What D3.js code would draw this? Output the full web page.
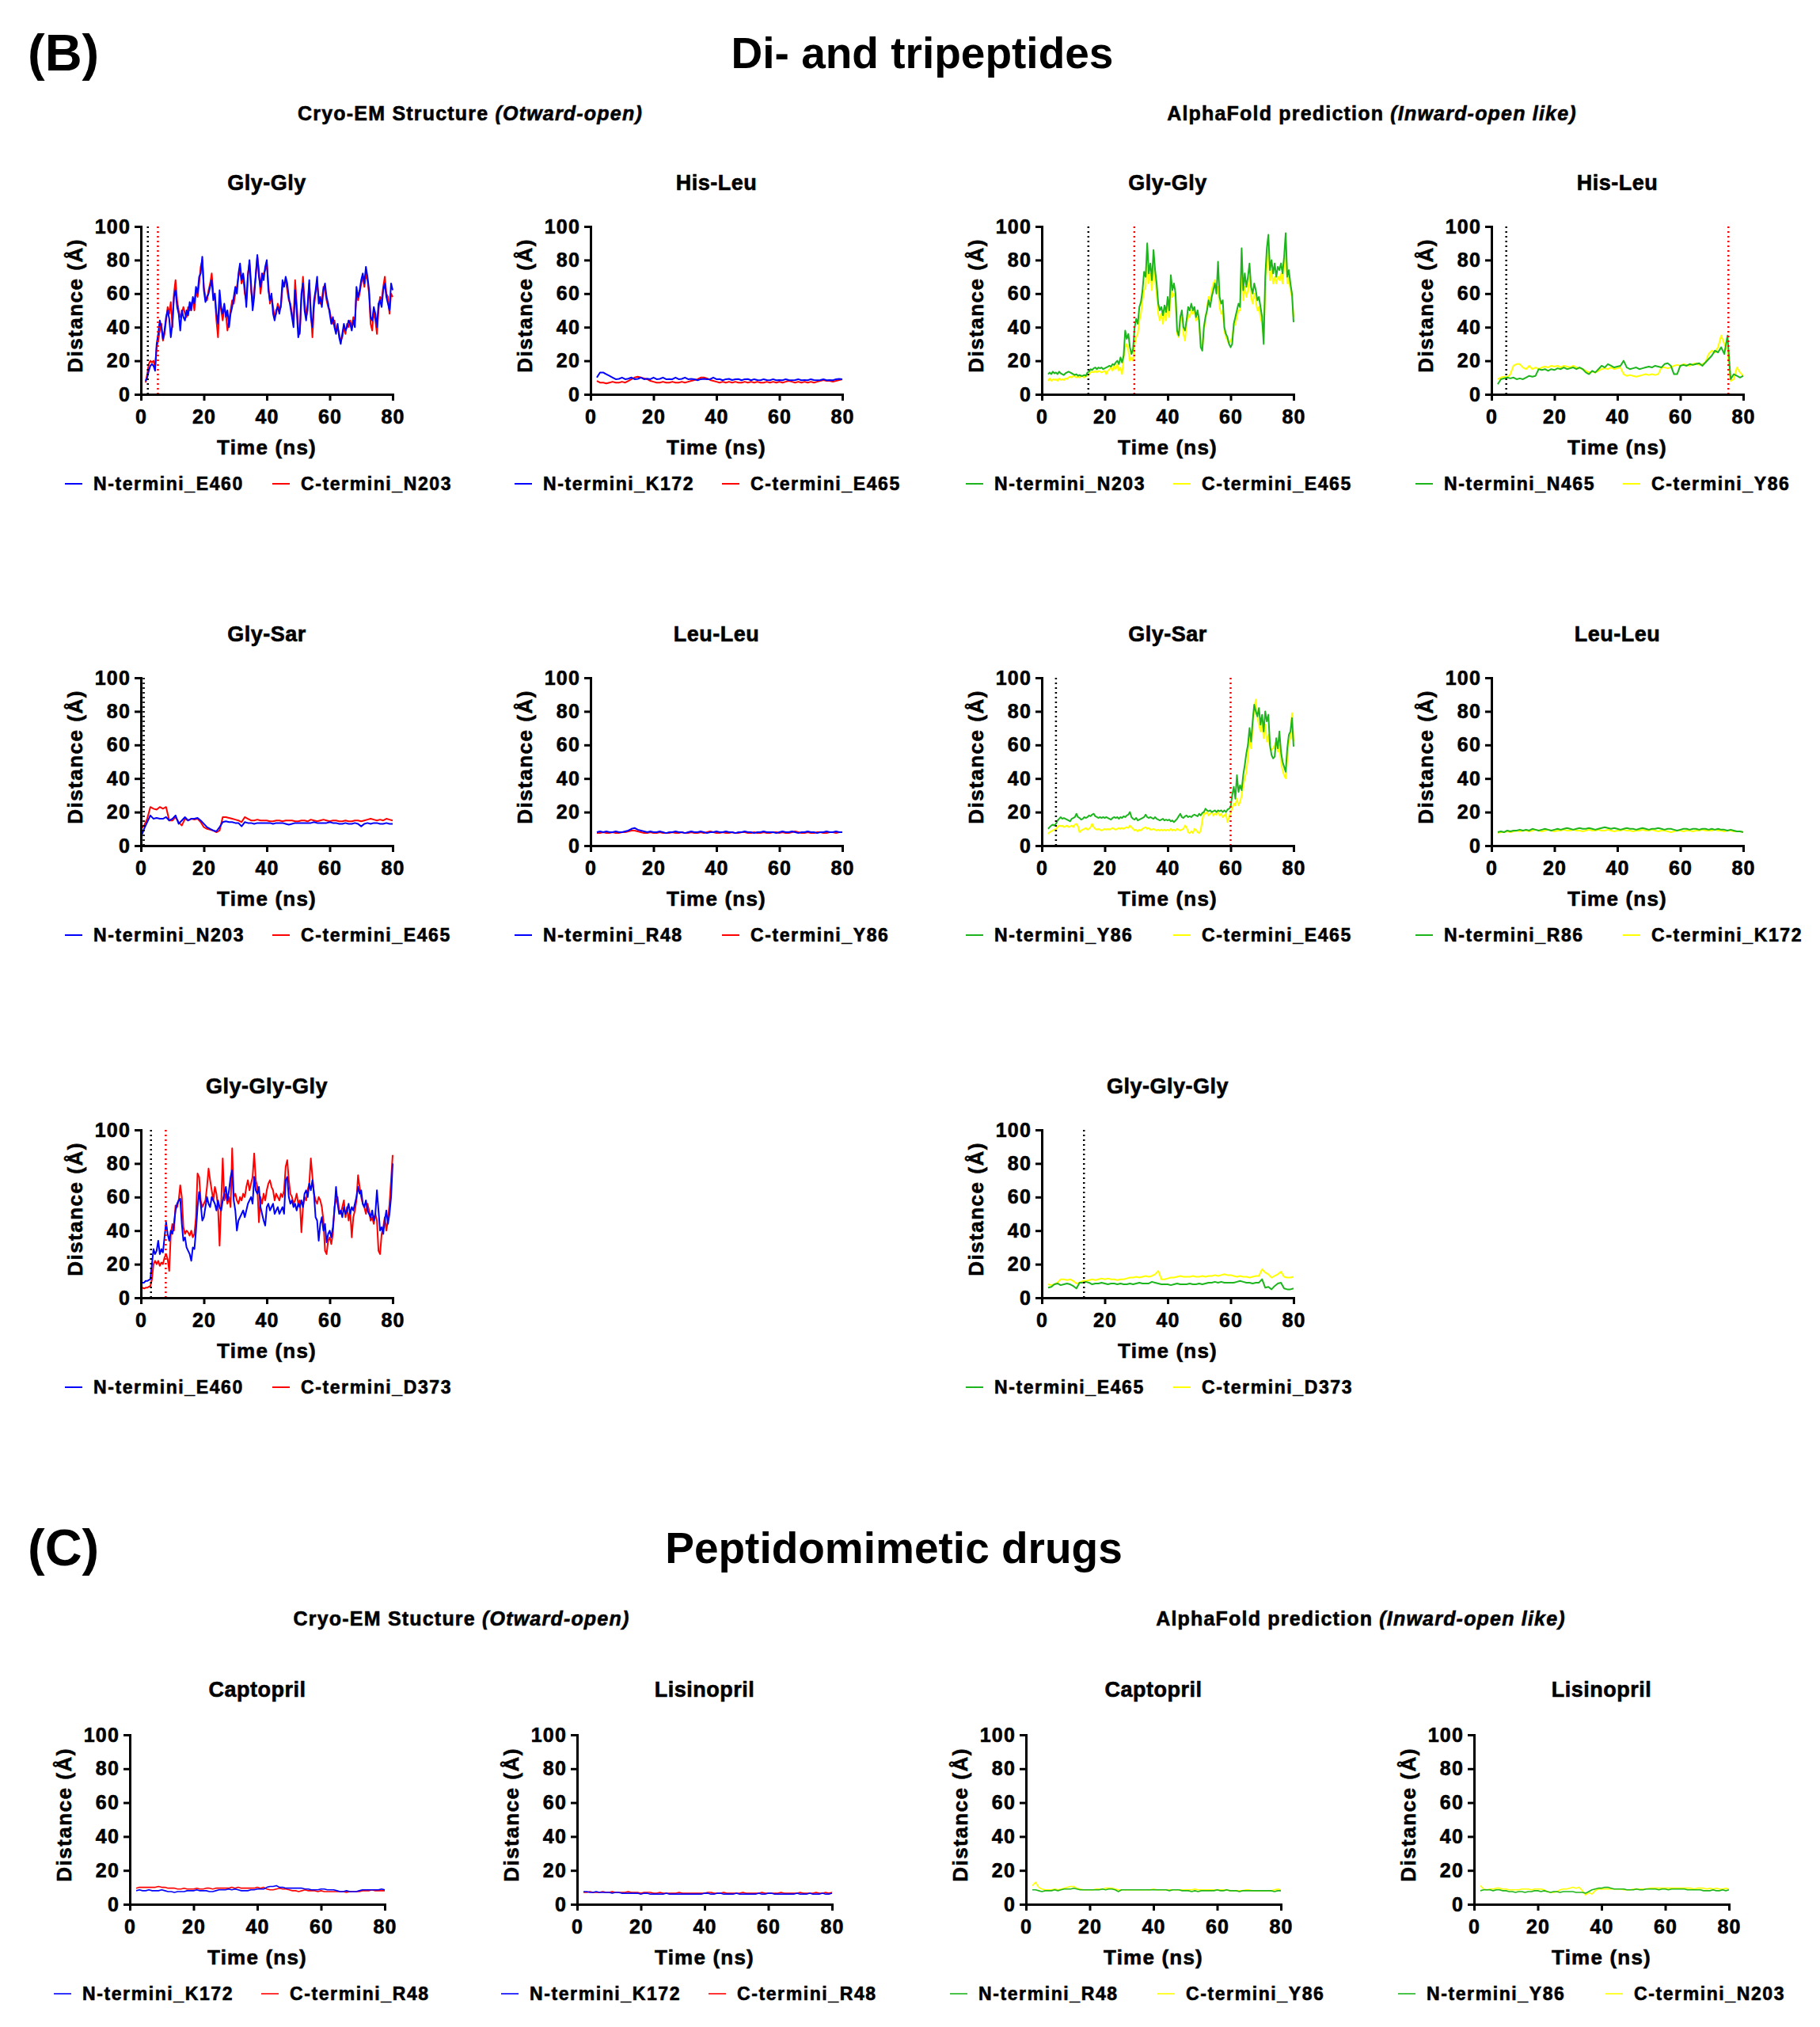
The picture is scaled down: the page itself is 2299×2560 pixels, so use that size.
<!DOCTYPE html>
<html>
<head>
<meta charset="utf-8">
<script src="https://cdn.jsdelivr.net/npm/d3@7"></script>
<style>
  body { margin: 0; background: #fff; }
  svg text { font-family: "Liberation Sans", Arial, sans-serif; font-weight: bold; fill: #000; }
  svg text.heavy { stroke: #000; stroke-width: 0.6; }
</style>
</head>
<body>
<div id="chart"></div>
<script>
// ---- data (distance in Å, sampled evenly between first and last time in ns) ----
var xTicks = [0, 20, 40, 60, 80];
var yTicks = [0, 20, 40, 60, 80, 100];

// Gly-Gly, cryo-EM
var ggOutN = [8,10,14,17,18,17,14,30,36,44,40,33,38,46,50,45,34,42,58,62,52,48,38,50,46,44,50,47,55,50,58,54,64,60,70,72,82,62,55,58,60,64,68,56,60,48,42,62,52,48,54,46,50,40,48,52,58,64,60,72,78,68,72,64,52,70,80,66,50,58,72,83,70,64,72,68,76,80,62,56,60,48,44,50,52,48,54,68,64,70,66,58,52,46,40,62,50,34,38,60,66,50,44,54,68,46,40,56,62,70,54,58,52,62,66,58,54,48,42,46,40,36,42,34,30,36,42,38,40,44,42,38,44,40,64,58,62,68,72,66,76,70,62,46,44,52,48,40,54,56,52,62,66,58,54,50,66,62];
var ggOutC = [7,12,18,20,19,20,16,28,32,38,42,32,36,44,52,48,55,40,60,68,56,50,46,48,52,48,46,52,50,54,56,50,62,58,66,76,80,64,58,56,62,66,72,60,58,44,34,56,50,44,52,48,38,44,50,56,54,60,64,70,74,66,70,60,56,72,78,62,54,62,70,82,74,60,68,72,74,78,66,54,58,52,46,48,54,50,52,64,66,68,62,56,54,48,44,68,54,40,36,56,70,56,46,50,66,50,34,52,60,66,58,54,56,64,62,56,52,50,44,42,44,38,40,36,32,34,40,36,42,40,44,40,46,44,60,56,60,66,70,64,72,68,60,42,38,50,44,36,50,58,56,64,70,60,58,48,60,58];
var ggOutEvents = [2.2, 5.4];

// His-Leu, cryo-EM
var hlOutN = [10,13,13,12,11,10,9,9.2,10,9,9.3,10,9,9.2,10,9,9.3,9,10,9,9.2,10,9,9.1,9,10,9,9.2,10,9,9.2,9,8.4,9,9.2,9,9,10,9,9.1,8.4,9,9.2,8.5,9,9.1,8.4,9,9.1,8.4,9,8.5,8.4,9,8.5,8.4,9,8.4,8.5,8.4,9,8.5,8.4,8.5,9,8.4,8.5,8.4,9,8.5,8.4,8.5,9,8.4,8.5,8.4,9,9.2,9];
var hlOutC = [8,7,7,6.5,7,7.5,7,7,7.5,7,8,9,10,10.5,10,9.5,9,8,7.5,7,7,7.5,7,7,7.5,7,7,7.5,7,7.5,8,8.5,9,10,10,9.5,8.5,8,7.5,7,7.5,7,7.5,7,7.5,7,7,7.5,7,7.5,7,7.5,7,7,7.5,7,7.5,7,7.5,7,7.5,8,7.5,7,7.5,7,7.5,7,7.5,7,7.5,8,8.5,8,8,7.5,8,8.5,9];
var hlOutEvents = [];

// Gly-Gly, AlphaFold
var ggInN = [12,13,12,13.5,12.5,13,12,13.5,12.5,12,11.5,12.5,13,13.5,13,12.5,12,11.5,12,11,11.5,11,11,11.5,11,13,13.5,15,14.5,15.5,16,15,16,15.5,16,15,15.5,16,16.5,17,16.5,18,17.5,19,20,18,22,19,23,38,33,36,28,24,27,40,45,42,52,55,62,73,70,90,72,78,68,86,74,66,54,50,52,47,53,49,58,50,71,62,66,60,38,35,46,50,40,38,44,52,50,54,50,52,46,50,44,28,26,40,46,50,56,52,58,62,66,60,79,58,54,56,40,36,34,30,28,30,42,46,50,54,52,87,62,72,64,70,78,64,60,66,62,56,58,52,46,30,70,87,95,74,80,72,78,70,76,74,78,72,82,96,70,74,66,60,43];
var ggInC = [8,9.5,8,9,8.5,9,8,9.5,8.5,9,8.5,9.5,9,10,10.5,10,11,10.5,10,10.5,10,11,10.5,10,11,11,12,13,13.5,13,14,13,14,13.5,13,13.5,14,12,14,15,16,14,17,15,18,14,16,12,22,28,30,26,20,22,20,30,34,36,44,48,56,62,64,80,66,72,62,80,68,60,48,44,48,42,50,44,54,46,64,58,60,56,36,34,44,46,36,32,42,48,46,50,48,50,44,46,42,30,28,38,44,52,58,56,62,66,68,62,64,52,48,50,38,34,32,30,32,34,40,42,46,50,50,76,56,64,58,62,70,58,54,60,56,50,52,46,42,34,62,78,88,68,74,66,70,66,70,68,72,66,76,90,66,70,62,58,46];
var ggInEvents = [14.8, 29.4];

// His-Leu, AlphaFold
var hlInN = [6,9,9.5,10,9.5,10,9,9.5,9,10,11,10.5,11,15,14.5,15,14,15,14.5,15.5,15,16,15,15.5,16,15,16,15,13,12,14,13,15,17,16,18,17,16,16.5,17,20,16,15,15.5,16,15,15.5,16,16.5,16,17,16.5,16,18,18.5,17,12,12,17,17.5,17,18,17.5,18,18.5,17,19,21,23,26,25,28,24,35,9,12,11,10,11];
var hlInC = [9,10,10.5,10,12,17,18,18,16,15,17,15,16,15,16,16.5,16,17,16.5,17,16,17,16.5,16,17,16,15.5,15,14,13,13.5,13,14,15,15.5,15,16,15,15.5,16,12,11,11.5,11,10.5,11,11.5,12,11.5,12,11.5,12,16,16,15.5,16,17,17.5,17,18,17.5,17,18,18.5,17.5,18,19,24,26,25,28,35,30,26,8,9,16,13,11];
var hlInEvents = [4.7, 75.3];

// Gly-Sar, cryo-EM
var gsOutN = [5,10,14,18,16,16.5,16,16,17,15,16,18,13,15,17,15,16,16,16.5,15,13,11,10,9,8.5,11,14,14.5,14,14,13.5,13.5,11.5,14,13.5,13.5,13,13.5,13.5,13.5,13.5,13.5,13,13.5,13.5,13.5,13,12.5,13,13.5,13.5,13.5,13.5,13.5,13.5,14,13.5,13.5,13.5,13.5,14,13.5,13.5,13,13,13.5,13,13,13.5,13,11.5,13,13.5,13,13.5,13.5,13,13,13.5,13,13];
var gsOutC = [10,12,16,23,22,21.5,23,22,23,15,15,17,14,12,16,15,16,15.5,16,14,11,10,9.5,9,8,9,17,17,16.5,16,15.5,15,14,17,16,15,15,15.5,15,15,15,14.5,14.5,15,15,14.5,15,15,15,14.5,14.5,15,15,14.5,15.5,15,14.5,15,15.5,15,14.5,15,15,14.5,14.5,15,14.5,14.5,15,15,14.5,15,15.5,16,15.5,15,15.5,15,16,15.5,15];
var gsOutEvents = [0.9];

// Leu-Leu, cryo-EM
var llOutN = [8,8.5,8,8.5,8,8,8.5,8,8,8.5,9,10,10.5,9.5,9,8.5,8,8.5,8,8,8.5,8,7.5,8,8,8.5,8,8,7.5,8,8.5,8,8,8.5,8,7.5,8,8,8.5,8,8,8.5,8,8,7.5,8,8,8.5,8,8,7.5,8,8,8.5,8,8,8,7.5,8,8.5,8,8,8.5,8,7.5,8,8,8.5,8,8,7.5,8,8,8.5,8,8,8.5,8,8];
var llOutC = [7.5,7.5,8,7.5,7.5,8,7.5,7.5,8,8,8.5,9,9,8.5,8,7.5,7.5,8,7.5,7.5,8,7.5,7.5,7.5,8,7.5,7.5,8,7.5,7.5,8,7.5,7.5,8,7.5,8,8.5,8,7.5,7.5,8,7.5,7.5,8,7.5,7.5,8,8,7.5,7.5,8,7.5,7.5,8,7.5,7.5,8,8,7.5,8,7.5,7.5,8,8.5,8,7.5,7.5,8,7.5,7.5,8,8,7.5,7.5,8,8,7.5,8,8];
var llOutEvents = [];

// Gly-Sar, AlphaFold
var gsInN = [10,11,12,12.5,12,13,15,16,17,16,16.5,16,15.5,15,14.5,16,16.5,17,19,17,16.5,15.5,16,17,16.5,17,18,17.5,18.5,19,17.5,17,16.5,17,16.5,17,16.5,17,16.5,16,15.5,16.5,17,16.5,17,16,17,16.5,17.5,17,18,18.5,20,17,16,15.5,16.5,15,15.5,16,16.5,17,18.5,17,16.5,17,16.5,16,17,16,15.5,15,15.5,16,15,15.5,15,15.5,14.5,15,14,15,16,17.5,19,17,16.5,17.5,18,17,17.5,17,18,18.5,18,17.5,19,18,19.5,20,22,21,20.5,21,20,20.5,21,20,21,20.5,21,20,21,20,21.5,22,23,30,35,28,42,32,36,33,42,48,55,60,70,62,74,84,80,77,82,72,78,68,80,74,78,60,54,52,53,64,58,68,56,50,47,44,58,66,68,76,59];
var gsInC = [7,8,8.5,9,9.5,10,11,12,11.5,12,11,11.5,12,11,11.5,12,11,12.5,13,11.5,8,9,9.5,10,10.5,9.5,10,11,13,11,10,9.5,10,9.5,9,9.5,10,9.5,10,9.5,10,10.5,10,9.5,10,10.5,10,10.5,10,10.5,11,10.5,12,11,10,9,9.5,8.5,9.5,9,10,10.5,11,10,10.5,9.5,9.5,10,9.5,9,9.5,9,9.5,9,9.5,9,9.5,9,10,9,9.5,9,10,9.5,9,9.5,10,12,11,8,7.5,8.5,7.5,10,9.5,8,7.5,9,15,20,19,20,18,19,20,18,19,18.5,20,18,19,17,18,19,14,17,20,22,25,24,28,24,26,30,36,40,44,52,64,58,70,82,87,76,72,68,74,64,72,62,66,58,57,58,60,62,56,60,50,45,42,40,52,62,64,79,62];
var gsInEvents = [4.5, 60.0];

// Leu-Leu, AlphaFold
var llInN = [8,8.5,8,9,8.5,9,9,9.5,9,9.5,9,10,9.5,9,9.5,10,9.5,9,9.5,10,9.5,10,10.5,10,9.5,10,10.5,10,10,10.5,10,9.5,10,10.5,11,10.5,10,10.5,10,9.5,10,10.5,10,10,9.5,10,10.5,10,9.5,10,10,10.5,10,9.5,10,10,9.5,9,9.5,10,10,9.5,10,10,9.5,10,10,9.5,10,9.5,10,9.5,9.5,9,9.5,9,8.5,8.5,8];
var llInC = [7.5,8,8,8.5,8,8.5,9,8.5,9,9,8.5,9,9.5,9,8.5,9,9.5,9,8.5,9,9,9.5,9,9,9.5,9,9,8.5,9,9.5,9,9,9.5,9,9,9.5,9,8.5,9,9,9.5,9,9,8.5,9,9,9.5,9,9,9.5,9,8.5,9,9,8.5,8,8.5,9,9,8.5,9,9,8.5,9,9,9.5,9,9,9,9.5,9,9,8.5,9,9,8.5,8.5,8.5,8];
var llInEvents = [];

// Gly-Gly-Gly, cryo-EM
var gggOutN = [9,9,9,10,10,10.5,11,20,29,26,28,34,26,29,27,36,45,38,34,40,38,44,52,56,58,59,44,34,36,30,28,26,22,30,29,40,54,63,56,46,48,54,60,56,54,60,58,56,52,58,54,52,58,62,66,58,64,72,76,58,52,40,46,48,50,52,48,52,56,58,60,56,72,64,62,66,54,50,46,43,54,56,52,54,56,50,52,54,50,52,54,50,70,72,60,56,58,54,56,52,56,54,58,54,62,64,60,68,64,70,62,48,46,34,44,48,40,44,33,38,40,36,42,52,66,56,50,52,48,54,50,52,56,50,54,52,56,60,66,62,64,56,54,58,52,50,48,52,46,50,64,52,40,42,38,46,52,44,50,60,80];
var gggOutC = [6,6,5.5,6,6,6.5,7,11,20,22,20,22,19,21,20,24,26,23,16,38,44,40,55,54,58,67,60,42,38,40,39,37,40,36,38,48,74,72,58,54,56,58,66,77,70,64,58,66,62,54,31,56,83,58,62,56,60,54,89,60,62,58,56,60,58,62,60,66,70,64,68,72,86,70,66,45,60,56,62,58,64,68,70,66,64,58,62,60,58,62,60,64,78,82,70,62,60,56,58,62,56,58,39,54,60,58,64,68,83,72,62,58,56,60,58,54,46,28,26,34,36,32,38,54,58,60,52,50,54,58,48,54,46,52,36,48,52,58,73,66,60,56,54,50,56,52,46,48,44,50,46,28,26,38,42,48,40,46,56,70,85];
var gggOutEvents = [3.2, 7.9];

// Gly-Gly-Gly, AlphaFold
var gggInN = [6,6.5,8,8.5,7.5,8,8.5,8,7,5.5,9,9,9.5,9,8,8.5,8.5,9,8.5,8,8.5,8.5,8,8.5,8,8,8.5,8,8.5,9,8.5,8.5,8.5,9.5,9,8.5,8,8,8,7.5,8,8.5,8,8,8,8.5,8,8,8.5,8,8.5,9,9,9.5,9,9.5,9,9,9,9,9.5,10,9.5,9,9,8.5,9,9,11,6,6.5,5,7,8.5,9,5.5,5,5,5.5];
var gggInC = [8,7.5,8,9,11,11,10.5,11,10,8.5,9,10,10,10.5,11,10.5,11,11.5,11,11.5,11,11,10.5,11,11,11.5,12,12,12.5,12,12.5,13,12.5,13,14,16,11,11,11.5,12,12,12.5,13,12.5,12.5,12.5,13,12.5,12.5,13,12.5,13,13,13.5,13,13.5,14,13.5,13.5,13,12.5,13,12.5,12.5,12,12.5,13,13,17,15,14,12,13,14,15.5,12.5,12,12,12.5];
var gggInEvents = [13.4];

// Captopril / Lisinopril, cryo-EM
var capOutN = [8,8.5,8,8,8.5,8,8,8,8.5,8,7.5,7.5,7,7.5,7.5,7.5,8,8,8,8.5,8,8,8,7.5,7.5,8,8.5,8.5,8.5,9,8.5,9,8.5,8,8,8,8.5,8.5,9,9,9,10,10.5,10.5,11,10,10,9.5,9.5,9.5,9.5,9.5,9.5,9,9,8.5,8.5,8.5,9,9,8.5,8.5,8.5,8,7.5,7.5,8,7.5,7.5,7.5,8,8.5,8.5,8.5,8.5,8.5,8.5,9,8.5];
var capOutC = [9.5,10,10,10,10,10,10,10.5,10,10,9.5,9.5,9.5,9,9,9.5,9,9,9,9.5,9,9,9.5,9.5,9,9.5,9.5,9.5,9.5,9.5,10,9.5,10,9.5,9.5,9.5,9.5,9.5,10,9.5,10,9,8.5,8.5,9,9.5,9,9,8.5,8,8,7.5,8,8.5,8,8,8,7.5,8,7.5,7.5,7.5,7.5,7.5,7.5,7.5,7,7.5,7.5,7.5,7.5,8,8,8,8.5,8,8,8,8];
var lisOutN = [7.5,7.5,7,7,7.5,7,7,7,7,6.5,7,7,6.5,6.5,6.5,6.5,6.5,6.5,6,6.5,6.5,6,6,6,6,6,6.5,6,6,6,6,6,6,6,6,6,6,6,6.5,6.5,6,6,6.5,6.5,6,6,6,6,6.5,6,6,6,6,6,6,6.5,6,6,6.5,6.5,6,6,6,6,6,6,6,6.5,6,6,6,6.5,6,6,6,6.5,6,6,6.5];
var lisOutC = [7,7,7.5,7,7,7,7.5,7,7,7.5,7,7,7,7,7.5,7,7,7,6.5,7,7,7,6.5,6.5,7,6.5,6.5,6.5,6.5,6.5,7,6.5,6.5,6.5,6.5,6.5,6.5,6.5,6.5,7,7,6.5,6.5,6.5,7,6.5,6.5,6.5,6.5,6.5,7,6.5,6.5,6.5,6.5,6.5,7,6.5,6.5,6.5,6.5,6.5,7,6.5,6.5,6.5,6.5,6.5,7,6.5,6.5,6.5,6.5,7,6.5,6.5,7,6.5,7];

// Captopril / Lisinopril, AlphaFold
var capInN = [8.5,8.5,8,7.5,8,8,8,8.5,8,8.5,9,9,9,9.5,9,8.5,8.5,8.5,8.5,8.5,8.5,8.5,9,8.5,9,9,8.5,7.5,8.5,8.5,8.5,8.5,8.5,8.5,8.5,8.5,8.5,8.5,8.5,8.5,8.5,8.5,8.5,8,8.5,8.5,8.5,8,8,8,7.5,8,7.5,8,8,8,8,8,8.5,8,8,8.5,8,8,8,7.5,8,8,8,8,8,8,8,8,8,8,7.5,8,8];
var capInC = [11,13,10,9,8.5,8.5,8.5,9,8.5,9,9.5,10,10.5,10.5,9.5,9,8.5,8.5,8.5,8.5,9,9,9,9.5,9.5,9.5,9,8.5,8.5,8.5,8.5,8.5,8.5,8.5,8.5,8.5,8.5,8.5,9,8.5,8.5,8.5,8.5,8.5,8.5,8.5,8.5,8.5,8.5,8.5,8.5,9,8.5,8.5,8.5,8.5,8.5,8.5,8.5,8.5,8.5,8.5,8,8,8,8,8,8.5,8.5,8,8,8,8,8,8,8,8.5,9,8.5];
var lisInN = [8,8.5,8.5,8.5,8,8.5,8.5,8,8,7.5,7.5,7,7.5,7.5,7,7.5,7.5,8,8,7.5,8,7.5,7,7.5,7.5,7,7.5,7.5,7.5,7.5,7,7,7,6.5,7.5,8.5,9,9.5,9.5,10,10,9.5,9,9,9,9,8.5,8.5,8.5,9,8.5,8.5,9,9,9,9,8.5,9,9,8.5,9,9,9,9,9,8.5,8.5,8.5,8.5,8.5,8,8,8,8.5,8,8,8.5,8,8.5];
var lisInC = [11,9,8.5,9,9,9.5,9.5,9,9,8.5,8.5,8.5,8.5,9,9,9,8.5,9,9,9,8.5,7.5,7,7,7.5,8.5,9,9,9.5,10,9.5,10,8,5.5,7,6,8,9,9,9,9,9,9,9,9,8.5,8.5,8.5,9,9,9,9,9,9.5,9.5,9.5,9.5,9.5,9.5,9.5,9.5,9.5,9.5,9.5,9.5,9.5,9.5,9,9.5,9.5,9.5,9,9.5,9,9.5,9,9,9.5,9];

// ---- layout ----
var svgWidth = 2299, svgHeight = 2560;
var BLUE = "#0000ff", RED = "#ff0000", GREEN = "#1db51d", YELLOW = "#ffff00";

var colB = [178, 746, 1316, 1884];
var rowB = [286, 856, 1427];
var colC = [164, 729, 1296, 1862];
var rowC = 2191;

function pair(nName, cName, nVals, cVals, t0, t1, out) {
    return [
        { name: cName, values: cVals, t0: t0, t1: t1, color: out ? RED : YELLOW },
        { name: nName, values: nVals, t0: t0, t1: t1, color: out ? BLUE : GREEN }
    ];
}

var panels = [
    { title: "Gly-Gly", x: colB[0], y: rowB[0], events: ggOutEvents, series: pair("N-termini_E460", "C-termini_N203", ggOutN, ggOutC, 1.5, 80, true) },
    { title: "His-Leu", x: colB[1], y: rowB[0], events: hlOutEvents, series: pair("N-termini_K172", "C-termini_E465", hlOutN, hlOutC, 2, 80, true) },
    { title: "Gly-Gly", x: colB[2], y: rowB[0], events: ggInEvents, series: pair("N-termini_N203", "C-termini_E465", ggInN, ggInC, 2, 80, false) },
    { title: "His-Leu", x: colB[3], y: rowB[0], events: hlInEvents, series: pair("N-termini_N465", "C-termini_Y86", hlInN, hlInC, 2, 80, false) },
    { title: "Gly-Sar", x: colB[0], y: rowB[1], events: gsOutEvents, series: pair("N-termini_N203", "C-termini_E465", gsOutN, gsOutC, 0, 80, true) },
    { title: "Leu-Leu", x: colB[1], y: rowB[1], events: llOutEvents, series: pair("N-termini_R48", "C-termini_Y86", llOutN, llOutC, 2, 80, true) },
    { title: "Gly-Sar", x: colB[2], y: rowB[1], events: gsInEvents, series: pair("N-termini_Y86", "C-termini_E465", gsInN, gsInC, 2, 80, false) },
    { title: "Leu-Leu", x: colB[3], y: rowB[1], events: llInEvents, series: pair("N-termini_R86", "C-termini_K172", llInN, llInC, 2, 80, false) },
    { title: "Gly-Gly-Gly", x: colB[0], y: rowB[2], events: gggOutEvents, series: pair("N-termini_E460", "C-termini_D373", gggOutN, gggOutC, 0, 80, true) },
    { title: "Gly-Gly-Gly", x: colB[2], y: rowB[2], events: gggInEvents, series: pair("N-termini_E465", "C-termini_D373", gggInN, gggInC, 2, 80, false) },
    { title: "Captopril", x: colC[0], y: rowC, c: true, events: [], series: pair("N-termini_K172", "C-termini_R48", capOutN, capOutC, 2, 80, true) },
    { title: "Lisinopril", x: colC[1], y: rowC, c: true, events: [], series: pair("N-termini_K172", "C-termini_R48", lisOutN, lisOutC, 2, 80, true) },
    { title: "Captopril", x: colC[2], y: rowC, c: true, events: [], series: pair("N-termini_R48", "C-termini_Y86", capInN, capInC, 2, 80, false) },
    { title: "Lisinopril", x: colC[3], y: rowC, c: true, events: [], series: pair("N-termini_Y86", "C-termini_N203", lisInN, lisInC, 2, 80, false) }
];

var svg = d3.select("#chart")
    .append("svg")
    .attr("width", svgWidth)
    .attr("height", svgHeight);

svg.append("rect").attr("width", svgWidth).attr("height", svgHeight).attr("fill", "#fff");

// section headings
function heading(label, title, yBase, sub1, sub2, subY, subX) {
    svg.append("text").attr("x", 35).attr("y", yBase + 3)
        .attr("font-size", 65).text(label);
    svg.append("text").attr("x", title.x).attr("y", yBase)
        .attr("text-anchor", "middle").attr("font-size", 55).text(title.text);
    [sub1, sub2].forEach(function (s, i) {
        var t = svg.append("text").attr("x", subX[i]).attr("y", subY)
            .attr("class", "heavy")
            .attr("text-anchor", "middle").attr("font-size", 25).attr("letter-spacing", 1.2);
        t.append("tspan").text(s[0]);
        t.append("tspan").attr("font-style", "italic").text(s[1]);
    });
}
heading("(B)", { text: "Di- and tripeptides", x: 1165 }, 86,
    ["Cryo-EM Structure ", "(Otward-open)"], ["AlphaFold prediction ", "(Inward-open like)"], 152, [594, 1733]);
heading("(C)", { text: "Peptidomimetic drugs", x: 1129 }, 1974,
    ["Cryo-EM Stucture ", "(Otward-open)"], ["AlphaFold prediction ", "(Inward-open like)"], 2053, [583, 1719]);

panels.forEach(function (p) {
    var w = p.c ? 322 : 318;
    var h = p.c ? 214 : 212;
    var lw = p.c ? 1.6 : 2;

    var xScale = d3.scaleLinear().domain([0, 80]).range([0, w]);
    var yScale = d3.scaleLinear().domain([0, 100]).range([h, 0]);

    var g = svg.append("g").attr("transform", `translate(${p.x}, ${p.y})`);

    g.append("text")
        .attr("x", w / 2).attr("y", p.c ? -48 : -46)
        .attr("class", "heavy")
        .attr("text-anchor", "middle").attr("font-size", 27).attr("letter-spacing", 0.5)
        .text(p.title);

    // series lines (C-termini first, N-termini on top)
    p.series.forEach(function (s) {
        var n = s.values.length;
        var tScale = d3.scaleLinear().domain([0, n - 1]).range([s.t0, s.t1]);
        var line = d3.line()
            .x(function (d, i) { return xScale(tScale(i)); })
            .y(function (d) { return yScale(d); });
        g.append("path")
            .datum(s.values)
            .attr("d", line)
            .attr("fill", "none")
            .attr("stroke", s.color)
            .attr("stroke-width", lw)
            .attr("stroke-linejoin", "round");
    });

    // dotted event lines
    g.selectAll(".event")
        .data(p.events)
        .enter()
        .append("line")
        .attr("x1", d => xScale(d)).attr("x2", d => xScale(d))
        .attr("y1", yScale(0)).attr("y2", yScale(100))
        .attr("stroke", (d, i) => i === 0 ? "#000" : RED)
        .attr("stroke-width", 2.5)
        .attr("stroke-dasharray", "2,4");

    var bottomAxis = d3.axisBottom(xScale).tickValues(xTicks).tickSize(8).tickSizeOuter(0).tickPadding(11);
    var leftAxis = d3.axisLeft(yScale).tickValues(yTicks).tickSize(8).tickSizeOuter(0).tickPadding(5);

    var xa = g.append("g").attr("transform", `translate(0, ${h})`).call(bottomAxis);
    var ya = g.append("g").call(leftAxis);
    [xa, ya].forEach(function (a) {
        a.select(".domain").attr("stroke", "#000").attr("stroke-width", 3).attr("stroke-linecap", "square");
        a.selectAll(".tick line").attr("stroke", "#000").attr("stroke-width", 3);
        a.selectAll(".tick text")
            .attr("class", "heavy")
            .attr("fill", "#000")
            .attr("font-size", 25)
            .attr("letter-spacing", 1.2)
            .attr("font-family", "Liberation Sans, Arial, sans-serif")
            .attr("font-weight", "bold");
    });

    g.append("text")
        .attr("x", w / 2).attr("y", h + 76)
        .attr("class", "heavy")
        .attr("text-anchor", "middle").attr("font-size", 26).attr("letter-spacing", 1.2)
        .text("Time (ns)");

    g.append("text")
        .attr("transform", `translate(-74, ${h / 2 - 6}) rotate(-90)`)
        .attr("class", "heavy")
        .attr("text-anchor", "middle").attr("font-size", 26).attr("letter-spacing", 1.5)
        .text("Distance (Å)");

    // legend: N-termini item then C-termini item
    var ly = h + 113;
    var items = [p.series[1], p.series[0]];
    var offs = [-96, 166];
    items.forEach(function (s, i) {
        g.append("line")
            .attr("x1", offs[i]).attr("x2", offs[i] + 22)
            .attr("y1", ly).attr("y2", ly)
            .attr("stroke", s.color).attr("stroke-width", p.c ? 1.6 : 2);
        g.append("text")
            .attr("x", offs[i] + 36).attr("y", ly)
            .attr("dy", "0.36em")
            .attr("class", "heavy")
            .attr("font-size", 23).attr("letter-spacing", 1.6)
            .text(s.name);
    });
});
</script>
</body>
</html>
